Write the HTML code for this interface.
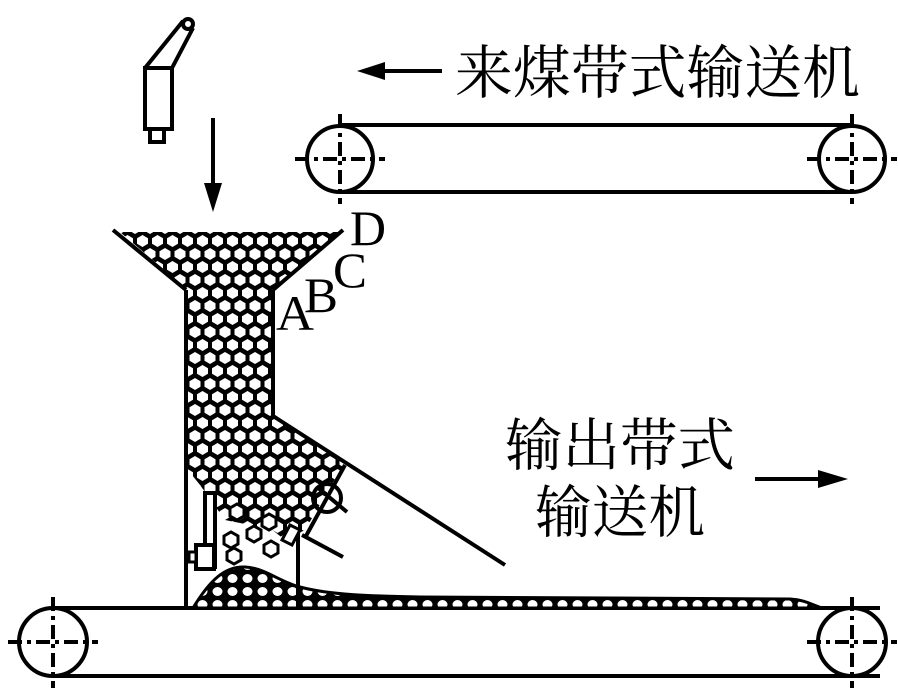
<!DOCTYPE html>
<html><head><meta charset="utf-8"><style>
html,body{margin:0;padding:0;background:#fff;}
svg{display:block;}
text{font-family:"Liberation Serif","Noto Serif CJK SC",serif;fill:#000;}
</style></head><body>
<svg width="898" height="693" viewBox="0 0 898 693" xmlns="http://www.w3.org/2000/svg">
<defs>
<pattern id="hex" width="15" height="26" patternUnits="userSpaceOnUse">
<rect width="15" height="26" fill="#000"/>
<polygon points="7.5,1 13,4.3 13,9.7 7.5,13 2,9.7 2,4.3" fill="#fff"/>
<polygon points="0,14 5.5,17.3 5.5,22.7 0,26 -5.5,22.7 -5.5,17.3" fill="#fff"/>
<polygon points="15,14 20.5,17.3 20.5,22.7 15,26 9.5,22.7 9.5,17.3" fill="#fff"/>
</pattern>
<pattern id="hex2" width="15" height="13" patternUnits="userSpaceOnUse">
<rect width="15" height="13" fill="#000"/>
<ellipse cx="7.5" cy="6.5" rx="5" ry="4.5" fill="#fff"/>
</pattern>
</defs>
<g stroke="#000" stroke-width="4" fill="none">
<rect x="145" y="68" width="27" height="61" fill="#fff"/>
<rect x="150" y="129" width="14" height="13"/>
<line x1="145" y1="68" x2="183" y2="21"/>
<line x1="172" y1="68" x2="193" y2="28"/>
<circle cx="188" cy="24" r="5" fill="#fff"/>
<line x1="213" y1="118" x2="213" y2="185"/>
<line x1="380" y1="71" x2="442" y2="71"/>
<line x1="755" y1="479" x2="820" y2="479"/>
<line x1="340" y1="125" x2="852" y2="125"/>
<line x1="340" y1="192" x2="852" y2="192"/>
<circle cx="340" cy="159" r="33"/>
<circle cx="852" cy="159" r="33"/>
<line x1="53" y1="608" x2="880" y2="608"/>
<line x1="53" y1="676" x2="880" y2="676"/>
<circle cx="53" cy="642" r="34"/>
<circle cx="852" cy="642" r="34"/>
</g>
<g stroke="#000" stroke-width="4" stroke-dasharray="14,5,4,5">
<line x1="295" y1="159" x2="385" y2="159"/><line x1="340" y1="114" x2="340" y2="204"/>
<line x1="807" y1="159" x2="897" y2="159"/><line x1="852" y1="114" x2="852" y2="204"/>
<line x1="8" y1="642" x2="98" y2="642"/><line x1="53" y1="597" x2="53" y2="688"/>
<line x1="807" y1="642" x2="897" y2="642"/><line x1="852" y1="597" x2="852" y2="688"/>
</g>
<polygon points="204,183 222,183 213,212" fill="#000"/>
<polygon points="357,71 385,62 385,80" fill="#000"/>
<polygon points="848,479 818,470 818,488" fill="#000"/>
<polygon points="120,232 340,232 275,290 275,415 345,462 305,530 285,540 270,528 250,525 225,520 200,485 188,470 188,290" fill="url(#hex)"/>
<g fill="#fff" stroke="#000" stroke-width="3">
<polygon points="230,508 237,504 244,508 244,516 237,520 230,516"/>
<polygon points="247,530 254,526 261,530 261,538 254,542 247,538"/>
<polygon points="262,518 269,514 276,518 276,526 269,530 262,526"/>
<polygon points="224,536 231,532 238,536 238,544 231,548 224,544"/>
<polygon points="264,545 271,541 278,545 278,553 271,557 264,553"/>
<polygon points="227,552 234,548 241,552 241,560 234,564 227,560"/>
</g>
<path d="M193,608 C210,580 225,566 245,567 C265,568 280,582 300,587 C330,595 370,596 420,597 L790,599 C805,600 810,604 822,608 Z" fill="url(#hex2)" stroke="#000" stroke-width="3"/>
<g stroke="#000" stroke-width="4" fill="none">
<line x1="113" y1="230" x2="186" y2="290"/>
<line x1="343" y1="230" x2="273" y2="290"/>
<line x1="186" y1="290" x2="186" y2="608"/>
<line x1="273" y1="290" x2="273" y2="416"/>
<line x1="273" y1="416" x2="505" y2="565"/>
<line x1="298" y1="533" x2="298" y2="608"/>
<line x1="345" y1="465" x2="306" y2="536"/>
<line x1="302" y1="535" x2="343" y2="557"/>
<line x1="317" y1="487" x2="347" y2="512"/>
<circle cx="327" cy="498" r="14"/>
<polygon points="290,525 300,530 292,545 282,540" fill="#fff" stroke-width="3"/>
<rect x="205" y="493" width="10" height="74" fill="#fff"/>
<rect x="196" y="545" width="18" height="24" fill="#fff"/>
<rect x="189" y="552" width="7" height="10" fill="#fff" stroke-width="3"/>
</g>
<text x="276" y="330" font-size="50" textLength="38" lengthAdjust="spacingAndGlyphs">A</text>
<text x="304" y="312" font-size="50" textLength="34" lengthAdjust="spacingAndGlyphs">B</text>
<text x="333" y="287" font-size="50" textLength="34" lengthAdjust="spacingAndGlyphs">C</text>
<text x="350" y="245" font-size="50" textLength="36" lengthAdjust="spacingAndGlyphs">D</text>
<text x="455" y="93" font-size="58" textLength="405" lengthAdjust="spacingAndGlyphs">来煤带式输送机</text>
<text x="505" y="465" font-size="57" textLength="230" lengthAdjust="spacingAndGlyphs">输出带式</text>
<text x="535" y="532" font-size="57" textLength="170" lengthAdjust="spacingAndGlyphs">输送机</text>
</svg>
</body></html>
